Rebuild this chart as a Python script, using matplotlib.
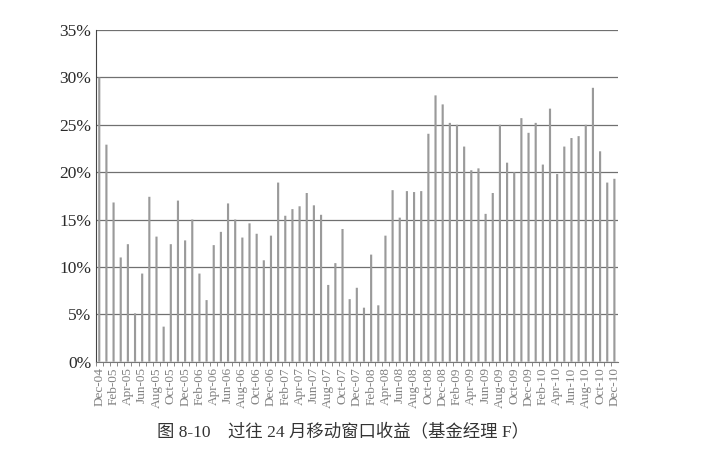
import matplotlib
matplotlib.use("Agg")
import matplotlib.pyplot as plt
import numpy as np

months = ["Dec-04",
          "Jan-05", "Feb-05", "Mar-05", "Apr-05", "May-05", "Jun-05", "Jul-05", "Aug-05", "Sep-05", "Oct-05", "Nov-05", "Dec-05",
          "Jan-06", "Feb-06", "Mar-06", "Apr-06", "May-06", "Jun-06", "Jul-06", "Aug-06", "Sep-06", "Oct-06", "Nov-06", "Dec-06",
          "Jan-07", "Feb-07", "Mar-07", "Apr-07", "May-07", "Jun-07", "Jul-07", "Aug-07", "Sep-07", "Oct-07", "Nov-07", "Dec-07",
          "Jan-08", "Feb-08", "Mar-08", "Apr-08", "May-08", "Jun-08", "Jul-08", "Aug-08", "Sep-08", "Oct-08", "Nov-08", "Dec-08",
          "Jan-09", "Feb-09", "Mar-09", "Apr-09", "May-09", "Jun-09", "Jul-09", "Aug-09", "Sep-09", "Oct-09", "Nov-09", "Dec-09",
          "Jan-10", "Feb-10", "Mar-10", "Apr-10", "May-10", "Jun-10", "Jul-10", "Aug-10", "Sep-10", "Oct-10", "Nov-10", "Dec-10"]

returns = [30.0,
           22.9, 16.8, 11.0, 12.4, 5.1, 9.3, 17.4, 13.2, 3.7, 12.4, 17.0, 12.8,
           15.0, 9.3, 6.5, 12.3, 13.7, 16.7, 15.0, 13.1, 14.6, 13.5, 10.7, 13.3,
           18.9, 15.4, 16.1, 16.4, 17.8, 16.5, 15.5, 8.1, 10.4, 14.0, 6.6, 7.8,
           5.7, 11.3, 5.95, 13.3, 18.1, 15.2, 18.0, 17.9, 18.0, 24.05, 28.1, 27.15,
           25.2, 25.0, 22.7, 20.2, 20.4, 15.6, 17.8, 25.0, 21.0, 20.0, 25.7, 24.15,
           25.2, 20.8, 26.7, 19.8, 22.7, 23.6, 23.8, 25.0, 28.9, 22.2, 18.9, 19.3]

yticks = [0, 5, 10, 15, 20, 25, 30, 35]
caption = "图 8-10    过往 24 月移动窗口收益（基金经理 F）"

fig = plt.figure(figsize=(7.02, 4.51), dpi=100)
ax = fig.add_axes([0.1363, 0.198, 0.744, 0.7355])

x = np.arange(len(months))
ax.bar(x, returns, width=0.3, color="#9a9a9a", linewidth=0, zorder=3, snap=False)

ax.set_xlim(-0.5, len(months) - 0.5)
ax.set_ylim(0, 35)
ax.set_yticks(yticks)
ax.set_yticklabels([f"{v}%" for v in yticks], family="Liberation Serif",
                   fontsize=12.5, color="#2a2a2a")
ax.yaxis.grid(True, color="#707070", linewidth=0.9, zorder=1)
ax.tick_params(axis="y", length=0, pad=3)

ax.set_xticks(x[::2])
ax.set_xticklabels(months[::2], rotation=90, family="Liberation Serif",
                   fontsize=9.5, color="#808080")
ax.set_xticks(x - 0.5, minor=True)
ax.tick_params(axis="x", which="major", length=0, pad=4)
ax.tick_params(axis="x", which="minor", length=3, color="#777777", direction="out")

for s in ["top", "right"]:
    ax.spines[s].set_visible(False)
ax.spines["left"].set_color("#444444")
ax.spines["bottom"].set_color("#777777")

fig.text(0.488, 0.042, caption, ha="center", va="center", fontsize=12.5,
         family=["Liberation Serif", "Noto Sans CJK SC"], color="#333333")

fig.savefig("out.png", dpi=100, facecolor="white")
